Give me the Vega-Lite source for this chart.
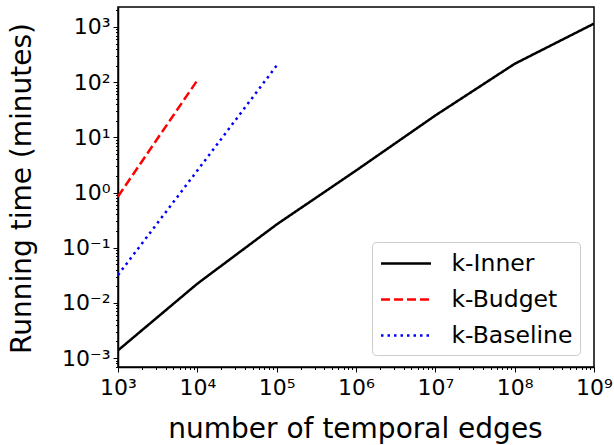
{
  "$schema": "https://vega.github.io/schema/vega-lite/v6.json",
  "width": 476,
  "height": 360,
  "autosize": {"type": "none"},
  "padding": {"left": 118, "top": 7, "right": 20, "bottom": 78},
  "background": "white",
  "config": {
    "font": "DejaVu Sans",
    "view": {"stroke": "black", "strokeWidth": 1.5},
    "axis": {
      "domainColor": "black",
      "domainWidth": 1.5,
      "tickColor": "black",
      "labelColor": "black",
      "titleColor": "black",
      "labelFont": "DejaVu Sans",
      "titleFont": "DejaVu Sans",
      "titleFontWeight": "normal",
      "labelFlush": false,
      "labelOverlap": false,
      "grid": false
    },
    "legend": {
      "labelFont": "DejaVu Sans",
      "labelColor": "black"
    }
  },
  "data": {
    "values": [
      {"edges": 1000, "time": 0.00138, "method": "k-Inner"},
      {"edges": 10000, "time": 0.0223, "method": "k-Inner"},
      {"edges": 100000, "time": 0.264, "method": "k-Inner"},
      {"edges": 1000000, "time": 2.5, "method": "k-Inner"},
      {"edges": 10000000, "time": 24.9, "method": "k-Inner"},
      {"edges": 100000000, "time": 215, "method": "k-Inner"},
      {"edges": 1000000000, "time": 1150, "method": "k-Inner"},
      {"edges": 1000, "time": 0.85, "method": "k-Budget"},
      {"edges": 10000, "time": 108, "method": "k-Budget"},
      {"edges": 1000, "time": 0.032, "method": "k-Baseline"},
      {"edges": 10000, "time": 2.5, "method": "k-Baseline"},
      {"edges": 100000, "time": 200, "method": "k-Baseline"}
    ]
  },
  "mark": {"type": "line", "strokeWidth": 2.5, "clip": true},
  "encoding": {
    "x": {
      "field": "edges",
      "type": "quantitative",
      "scale": {"type": "log", "domain": [1000, 1000000000], "nice": false},
      "axis": {
        "title": "number of temporal edges",
        "titleFontSize": 28,
        "titleX": 237,
        "titleY": 70,
        "titleBaseline": "alphabetic",
        "labelFontSize": 22,
        "labelPadding": 5,
        "tickWidth": 1,
        "tickSize": {"condition": {"test": "abs(log(datum.value)/LN10 - round(log(datum.value)/LN10)) < 0.000001", "value": 5}, "value": 2.5},
        "values": [1000,2000,3000,4000,5000,6000,7000,8000,9000,10000,20000,30000,40000,50000,60000,70000,80000,90000,100000,200000,300000,400000,500000,600000,700000,800000,900000,1000000,2000000,3000000,4000000,5000000,6000000,7000000,8000000,9000000,10000000,20000000,30000000,40000000,50000000,60000000,70000000,80000000,90000000,100000000,200000000,300000000,400000000,500000000,600000000,700000000,800000000,900000000,1000000000],
        "labelExpr": "abs(log(datum.value)/LN10 - round(log(datum.value)/LN10)) < 0.000001 ? '10' + ['³','⁴','⁵','⁶','⁷','⁸','⁹'][round(log(datum.value)/LN10) - 3] : ''"
      }
    },
    "y": {
      "field": "time",
      "type": "quantitative",
      "scale": {"type": "log", "domain": [0.00069, 2300], "nice": false},
      "axis": {
        "title": "Running time (minutes)",
        "titleFontSize": 28,
        "titleX": -88,
        "titleY": 181,
        "titleAngle": -90,
        "titleAlign": "center",
        "titleBaseline": "alphabetic",
        "labelFontSize": 22,
        "labelPadding": 3,
        "tickWidth": 1,
        "tickSize": {"condition": {"test": "abs(log(datum.value)/LN10 - round(log(datum.value)/LN10)) < 0.000001", "value": 5}, "value": 2.5},
        "values": [0.0007,0.0008,0.0009,0.001,0.002,0.003,0.004,0.005,0.006,0.007,0.008,0.009,0.01,0.02,0.03,0.04,0.05,0.06,0.07,0.08,0.09,0.1,0.2,0.3,0.4,0.5,0.6,0.7,0.8,0.9,1,2,3,4,5,6,7,8,9,10,20,30,40,50,60,70,80,90,100,200,300,400,500,600,700,800,900,1000,2000],
        "labelExpr": "abs(log(datum.value)/LN10 - round(log(datum.value)/LN10)) < 0.000001 ? '10' + ['⁻³','⁻²','⁻¹','⁰','¹','²','³'][round(log(datum.value)/LN10) + 3] : ''"
      }
    },
    "color": {
      "field": "method",
      "type": "nominal",
      "scale": {"domain": ["k-Inner", "k-Budget", "k-Baseline"], "range": ["black", "#ff0000", "#0000ff"]},
      "legend": {
        "title": null,
        "orient": "none",
        "legendX": 254,
        "legendY": 235,
        "symbolType": "M-1,0H3",
        "symbolSize": 625,
        "symbolStrokeWidth": 2.5,
        "symbolFillColor": "transparent",
        "labelFontSize": 23.5,
        "labelOffset": 44,
        "rowPadding": 10,
        "padding": 7.5,
        "strokeColor": "#cccccc",
        "fillColor": "white",
        "cornerRadius": 4
      }
    },
    "strokeDash": {
      "field": "method",
      "type": "nominal",
      "scale": {"domain": ["k-Inner", "k-Budget", "k-Baseline"], "range": [[1, 0], [9, 4], [2.5, 4]]},
      "legend": {
        "title": null,
        "orient": "none",
        "legendX": 254,
        "legendY": 235,
        "symbolType": "M-1,0H3",
        "symbolSize": 625,
        "symbolStrokeWidth": 2.5,
        "symbolFillColor": "transparent",
        "labelFontSize": 23.5,
        "labelOffset": 44,
        "rowPadding": 10,
        "padding": 7.5,
        "strokeColor": "#cccccc",
        "fillColor": "white",
        "cornerRadius": 4
      }
    }
  }
}
